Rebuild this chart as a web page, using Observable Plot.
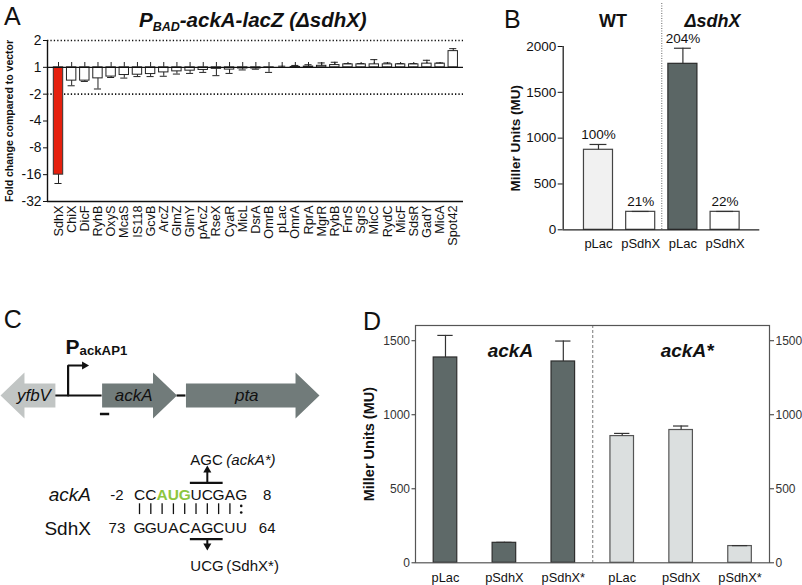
<!DOCTYPE html>
<html><head><meta charset="utf-8">
<script src="https://cdn.jsdelivr.net/npm/d3@7"></script>
<script src="https://cdn.jsdelivr.net/npm/@observablehq/plot@0.6"></script>
<style>
body{margin:0;background:#fff;}
#fig{position:relative;width:802px;height:585px;overflow:hidden;font-family:"Liberation Sans",Arial,Helvetica,sans-serif;color:#111;}
.box{position:absolute;}
</style></head><body><div id="fig"></div><script>
// ---------- Panel A data ----------
const srnas = ["SdhX","ChiX","DicF","RyhB","OxyS","McaS","IS118","GcvB","ArcZ","GlmZ","GlmY","pArcZ","RseX","CyaR","MicL","DsrA","OmrB","pLac","OmrA","RprA","MgrR","RybB","FnrS","SgrS","MicC","RydC","MicF","SdsR","GadY","MicA","Spot42"];
const foldChange = [-16,-1.41,-1.41,-1.33,-1.27,-1.22,-1.21,-1.19,-1.14,-1.11,-1.09,-1.07,-1.04,-1.06,-1.03,-1.03,-1.01,1.00,1.01,1.02,1.04,1.06,1.08,1.08,1.08,1.08,1.08,1.08,1.10,1.10,1.52];
const foldError  = [-20.1,-1.61,-1.44,-1.75,-1.30,-1.32,-1.27,-1.27,-1.26,-1.19,-1.17,-1.14,-1.24,-1.17,-1.07,-1.05,-1.14,1.03,1.05,1.07,1.12,1.14,1.10,1.10,1.22,1.12,1.10,1.10,1.20,1.12,1.62];
const foldTicks = [2,1,-2,-4,-8,-16,-32];
const cutoffs = [2,-2];
// ---------- Panel B data ----------
const bGroups = ["WT","\u0394sdhX"];
const bGroupOf = [0,0,1,1];
const bPlasmids = ["pLac","pSdhX","pLac","pSdhX"];
const bMU = [873,196,1811,196];
const bErr = [931,200,1981,200];
const bPct = ["100%","21%","204%","22%"];
const bTicks = [0,500,1000,1500,2000];
// ---------- Panel C data ----------
const geneNames = ["yfbV","ackA","pta"];
const geneStart = [-750,0,1347];      // bp, relative to ackA start (tail of arrow)
const geneEnd   = [-1632,1203,3492];  // bp (arrow tip)
const promoterBp = -546;
const probeBp = [-27,122];
const ackASeq = "CCAUGUCGAG";
const sdhXSeq = "GGUACAGCUU";
const pairing = "|||||||||:";
const ackAEnds = ["-2","8"];
const sdhXEnds = ["73","64"];
const startCodon = [2,4];
const mutIdx = [5,7];
const ackAMut = "AGC", sdhXMut = "UCG";
// ---------- Panel D data ----------
const dConstructs = ["ackA","ackA*"];
const dGroupOf = [0,0,0,1,1,1];
const dPlasmids = ["pLac","pSdhX","pSdhX*","pLac","pSdhX","pSdhX*"];
const dMU  = [1387,135,1360,856,897,113];
const dErr = [1536,138,1498,874,924,116];
const dTicks = [0,500,1000,1500];

// ---------- helpers ----------
const FONT = '"Liberation Sans", Arial, Helvetica, sans-serif';
const fig = document.getElementById("fig");
const st = fs => ({background:"transparent",fontFamily:FONT,fontSize:fs+"px",color:"#111",overflow:"visible",maxWidth:"none"});
function put(node,left,top,w,h){const d=document.createElement("div");d.className="box";d.style.left=left+"px";d.style.top=top+"px";d.style.width=w+"px";d.style.height=h+"px";d.appendChild(node);fig.appendChild(d);}
function html(s,css){const d=document.createElement("div");d.innerHTML=s;d.style.cssText="position:absolute;white-space:nowrap;"+css;fig.appendChild(d);}
const pos = f => f >= 1 ? Math.log2(f) : -Math.log2(-f);

// ---------- Panel A ----------
const aRows = srnas.map((name,i)=>({i,name,v:pos(foldChange[i]),e:pos(foldError[i]),hit:foldChange[i]<=-2}));
const aDom = [-0.836,30.78], aHalf = 0.357, aCap = 0.27;
const plotA = Plot.plot({
  width:470,height:300,marginLeft:47,marginRight:7,marginTop:40,marginBottom:99,style:st(13),
  x:{domain:aDom}, y:{domain:[pos(-32),pos(2)]},
  marks:[
    Plot.ruleY(cutoffs,{y:pos,stroke:"#111",strokeWidth:1.6,strokeDasharray:"1.3,2.1"}),
    Plot.ruleX(aRows,{x:"i",y1:0,y2:0.18,stroke:"#222",strokeWidth:1}),
    Plot.rect(aRows,{filter:d=>!d.hit,x1:d=>d.i-aHalf,x2:d=>d.i+aHalf,y1:0,y2:"v",fill:"#fff",stroke:"#222",strokeWidth:1}),
    Plot.rect(aRows,{filter:d=>d.hit,x1:d=>d.i-aHalf,x2:d=>d.i+aHalf,y1:0,y2:"v",fill:"#e6200e",stroke:"#333",strokeWidth:1}),
    Plot.ruleX(aRows,{x:"i",y1:"v",y2:"e",stroke:"#222",strokeWidth:1}),
    Plot.ruleY(aRows,{y:"e",x1:d=>d.i-aCap,x2:d=>d.i+aCap,stroke:"#222",strokeWidth:1}),
    Plot.ruleY([0],{stroke:"#111",strokeWidth:1.4}),
    Plot.ruleY([pos(-32)],{stroke:"#111",strokeWidth:1.4}),
    Plot.ruleX([aDom[0]],{stroke:"#111",strokeWidth:1.4}),
    Plot.axisY({ticks:foldTicks.map(pos),tickFormat:p=>String(foldTicks.find(f=>Math.abs(pos(f)-p)<1e-9)),tickSize:4,tickPadding:2,fontSize:13.8,label:null}),
    Plot.axisX({ticks:aRows.map(d=>d.i),tickFormat:i=>srnas[i],tickRotate:-90,tickSize:0,tickPadding:4,fontSize:12.7,label:null}),
    Plot.text(["Fold change compared to vector"],{frameAnchor:"left",textAnchor:"middle",rotate:-90,dx:-38,fontWeight:"bold",fontSize:10.5})
  ]
});
put(plotA,0,0,470,300);

// ---------- Panel B ----------
const bRows = bPlasmids.map((p,i)=>({i,p,g:bGroupOf[i],v:bMU[i],e:bErr[i],pct:bPct[i]}));
const bDom = [-0.836,3.822], bHalf = 0.344, bCap = 0.2;
const bSplit = bGroupOf.findIndex(g=>g===1) - 0.5;
const bCenter = g => d3.mean(bRows.filter(d=>d.g===g),d=>d.i);
const plotB = Plot.plot({
  width:332,height:270,marginLeft:92.7,marginRight:42.7,marginTop:46,marginBottom:40.7,style:st(13),
  x:{domain:bDom}, y:{domain:[0,2000]},
  marks:[
    Plot.ruleX([bSplit],{stroke:"#666",strokeWidth:1,strokeDasharray:"1,1.5",insetTop:-43}),
    Plot.rect(bRows,{filter:d=>d.p!=="pLac",x1:d=>d.i-bHalf,x2:d=>d.i+bHalf,y1:0,y2:"v",fill:"#fff",stroke:"#444",strokeWidth:1.2}),
    Plot.rect(bRows,{filter:d=>d.p==="pLac"&&d.g===0,x1:d=>d.i-bHalf,x2:d=>d.i+bHalf,y1:0,y2:"v",fill:"#f1f1f1",stroke:"#444",strokeWidth:1.2}),
    Plot.rect(bRows,{filter:d=>d.p==="pLac"&&d.g===1,x1:d=>d.i-bHalf,x2:d=>d.i+bHalf,y1:0,y2:"v",fill:"#5b6665",stroke:"#2a2a2a",strokeWidth:1.2}),
    Plot.ruleX(bRows,{x:"i",y1:"v",y2:"e",stroke:"#333",strokeWidth:1.2}),
    Plot.ruleY(bRows,{y:"e",x1:d=>d.i-bCap,x2:d=>d.i+bCap,stroke:"#333",strokeWidth:1.2}),
    Plot.ruleY([0],{stroke:"#222",strokeWidth:1.3}),
    Plot.ruleX([bDom[0]],{stroke:"#222",strokeWidth:1.3}),
    Plot.axisY({ticks:bTicks,tickFormat:d=>String(d),tickSize:5,tickPadding:2,fontSize:13.5,label:null}),
    Plot.axisX({ticks:bRows.map(d=>d.i),tickFormat:i=>bPlasmids[i],tickSize:0,tickPadding:9,fontSize:13,label:null}),
    Plot.text(bRows,{x:"i",y:"e",text:"pct",dy:-9.5,fontSize:13.5}),
    Plot.text([bGroups[0]],{x:bCenter(0),frameAnchor:"top",dy:-32.7,dx:-6.6,fontWeight:"bold",fontSize:18}),
    Plot.text([bGroups[1]],{x:bCenter(1),frameAnchor:"top",dy:-32.7,dx:8.5,fontWeight:"bold",fontStyle:"italic",fontSize:18}),
    Plot.text(["Miller Units (MU)"],{frameAnchor:"left",textAnchor:"middle",rotate:-90,dx:-47.7,fontWeight:"bold",fontSize:13.5})
  ]
});
put(plotB,470,0,332,270);

// ---------- Panel C (gene map) ----------
const HEAD = 385, BODY = 12, HEADH = 23;
const genePts = geneNames.flatMap((name,k)=>{
  const s = geneStart[k], e = geneEnd[k], dir = Math.sign(e-s), hb = e-dir*HEAD;
  return [[s,-BODY],[hb,-BODY],[hb,-HEADH],[e,0],[hb,HEADH],[hb,BODY],[s,BODY]].map(([x,y])=>({name,x,y,rev:dir<0}));
});
const geneLab = geneNames.map((name,k)=>{const dir=Math.sign(geneEnd[k]-geneStart[k]);return {name,x:(geneStart[k]+geneEnd[k])/2-dir*96};});
const backbone = [{x1:geneStart[0],x2:geneStart[1]},{x1:geneEnd[1],x2:geneStart[2]}];
const promArm = 262;
const plotCmap = Plot.plot({
  width:330,height:100,margin:0,style:st(17),
  x:{domain:[-1632,3492],range:[0,319],axis:null}, y:{domain:[-65,35],range:[0,100],axis:null},
  marks:[
    Plot.ruleY(backbone,{x1:"x1",x2:"x2",y:0,stroke:"#111",strokeWidth:2.2}),
    Plot.line(genePts.filter(d=>d.rev),{x:"x",y:"y",z:"name",fill:"#c1c5c4",stroke:"none"}),
    Plot.line(genePts.filter(d=>!d.rev),{x:"x",y:"y",z:"name",fill:"#717b7a",stroke:"none"}),
    Plot.line([[promoterBp,0],[promoterBp,-30],[promoterBp+promArm,-30]],{stroke:"#111",strokeWidth:2.2,strokeLinejoin:"miter"}),
    Plot.dot([[promoterBp+promArm,-30]],{symbol:"triangle",rotate:90,r:3,fill:"#111",stroke:"none"}),
    Plot.ruleY([{x1:probeBp[0],x2:probeBp[1]}],{x1:"x1",x2:"x2",y:18.5,stroke:"#111",strokeWidth:2.5}),
    Plot.text(geneLab,{x:"x",y:0,text:"name",fontStyle:"italic",fontSize:17,fill:"#111"}),
    Plot.text(["P"],{x:promoterBp,y:-48.5,textAnchor:"start",dx:-2.7,fontWeight:"bold",fontSize:21}),
    Plot.text(["ackAP1"],{x:promoterBp,y:-44.5,textAnchor:"start",dx:11.5,fontWeight:"bold",fontSize:13.2})
  ]
});
put(plotCmap,0,330,330,100);

// ---------- Panel C (base pairing) ----------
const ROW_A = 54.2, ROW_P = 68.7, ROW_S = 88, OVER = 42.3, UNDER = 98.7, LAB_A = 19.2, LAB_S = 125.8;
const aChars = [...ackASeq].map((c,i)=>({c,i,start:i>=startCodon[0]&&i<=startCodon[1]}));
const sChars = [...sdhXSeq].map((c,i)=>({c,i}));
const pChars = [...pairing].map((c,i)=>({c,i}));
const mutMid = (mutIdx[0]+mutIdx[1])/2;
const endX = ackASeq.length + 1.3, startX = -2, nameX = -4.3;
const wobble = pChars.filter(d=>d.c===":").flatMap(d=>[{i:d.i,y:ROW_P-3.3},{i:d.i,y:ROW_P+3.3}]);
const plotCseq = Plot.plot({
  width:330,height:145,margin:0,style:st(15),
  x:{domain:[-12.3,16.9],range:[0,330],axis:null}, y:{domain:[0,145],range:[0,145],axis:null},
  marks:[
    Plot.text(aChars,{filter:d=>!d.start,x:"i",y:ROW_A,text:"c",fontSize:15.5,fill:"#111"}),
    Plot.text(aChars,{filter:d=>d.start,x:"i",y:ROW_A,text:"c",fontSize:15.5,fill:"#8dc63f",fontWeight:"bold"}),
    Plot.text(sChars,{x:"i",y:ROW_S,text:"c",fontSize:15.5,fill:"#111"}),
    Plot.ruleX(pChars.filter(d=>d.c==="|"),{x:"i",y1:ROW_P-5.4,y2:ROW_P+5.4,stroke:"#111",strokeWidth:1.3}),
    Plot.dot(wobble,{x:"i",y:"y",r:1.3,fill:"#111",stroke:"none"}),
    Plot.text(["ackA"],{x:nameX,y:ROW_A,textAnchor:"end",fontStyle:"italic",fontSize:19}),
    Plot.text(["SdhX"],{x:nameX,y:ROW_S,textAnchor:"end",fontSize:19}),
    Plot.text([ackAEnds[0]],{x:startX,y:ROW_A,fontSize:15}),
    Plot.text([ackAEnds[1]],{x:endX,y:ROW_A,fontSize:15}),
    Plot.text([sdhXEnds[0]],{x:startX,y:ROW_S,fontSize:15}),
    Plot.text([sdhXEnds[1]],{x:endX,y:ROW_S,fontSize:15}),
    Plot.ruleY([OVER],{x1:mutIdx[0]-0.5,x2:mutIdx[1]+0.4,stroke:"#111",strokeWidth:2.2}),
    Plot.ruleY([UNDER],{x1:mutIdx[0]-0.5,x2:mutIdx[1]+0.4,stroke:"#111",strokeWidth:2.2}),
    Plot.ruleX([mutMid],{y1:OVER,y2:OVER-11,stroke:"#111",strokeWidth:2}),
    Plot.dot([[mutMid,OVER-12.6]],{symbol:"triangle",r:3,fill:"#111",stroke:"none"}),
    Plot.ruleX([mutMid],{y1:UNDER,y2:UNDER+6,stroke:"#111",strokeWidth:2}),
    Plot.dot([[mutMid,UNDER+6.6]],{symbol:"triangle",rotate:180,r:3,fill:"#111",stroke:"none"}),
    Plot.text([ackAMut],{x:mutIdx[0]-0.5,y:LAB_A,textAnchor:"start",fontSize:15}),
    Plot.text(["(ackA*)"],{x:mutIdx[0]-0.5,y:LAB_A,textAnchor:"start",dx:36,fontSize:15,fontStyle:"italic"}),
    Plot.text([sdhXMut],{x:mutIdx[0]-0.5,y:LAB_S,textAnchor:"start",fontSize:15}),
    Plot.text(["(SdhX*)"],{x:mutIdx[0]-0.5,y:LAB_S,textAnchor:"start",dx:36,fontSize:15})
  ]
});
put(plotCseq,0,440,330,145);

// ---------- Panel D ----------
const dRows = dPlasmids.map((p,i)=>({i,p,g:dGroupOf[i],v:dMU[i],e:dErr[i]}));
const dDom = [-0.509,5.5], dHalf = 0.2, dCap = 0.13;
const dSplit = dGroupOf.findIndex(g=>g===1) - 0.5;
const dCenter = g => d3.mean(dRows.filter(d=>d.g===g),d=>d.i);
const plotD = Plot.plot({
  width:472,height:285,marginLeft:85,marginRight:33,marginTop:25,marginBottom:22.7,style:st(12.5),
  x:{domain:dDom}, y:{domain:[0,1603]},
  marks:[
    Plot.ruleX([dSplit],{stroke:"#777",strokeWidth:1,strokeDasharray:"3,2"}),
    Plot.rect(dRows,{filter:d=>d.g===0,x1:d=>d.i-dHalf,x2:d=>d.i+dHalf,y1:0,y2:"v",fill:"#5e6968",stroke:"#2e2e2e",strokeWidth:1.2}),
    Plot.rect(dRows,{filter:d=>d.g===1,x1:d=>d.i-dHalf,x2:d=>d.i+dHalf,y1:0,y2:"v",fill:"#dbdfdf",stroke:"#555",strokeWidth:1.2}),
    Plot.ruleX(dRows,{x:"i",y1:"v",y2:"e",stroke:"#333",strokeWidth:1.2}),
    Plot.ruleY(dRows,{y:"e",x1:d=>d.i-dCap,x2:d=>d.i+dCap,stroke:"#333",strokeWidth:1.2}),
    Plot.frame({stroke:"#555",strokeWidth:1.2}),
    Plot.axisY({ticks:dTicks,tickFormat:d=>String(d),anchor:"left",tickSize:3.5,tickPadding:2,fontSize:12,color:"#333",label:null}),
    Plot.axisY({ticks:dTicks,tickFormat:d=>String(d),anchor:"right",tickSize:4,tickPadding:2,fontSize:12,color:"#333",label:null}),
    Plot.axisX({ticks:dRows.map(d=>d.i),tickFormat:i=>dPlasmids[i],tickSize:0,tickPadding:9.9,fontSize:12.8,label:null}),
    Plot.text([dConstructs[0]],{x:dCenter(0),frameAnchor:"top",dy:17.7,dx:6,fontWeight:"bold",fontStyle:"italic",fontSize:19}),
    Plot.text([dConstructs[1]],{x:dCenter(1),frameAnchor:"top",dy:17.7,dx:6,fontWeight:"bold",fontStyle:"italic",fontSize:19}),
    Plot.text(["Miller Units (MU)"],{frameAnchor:"left",textAnchor:"middle",rotate:-90,dx:-46,fontWeight:"bold",fontSize:14.5})
  ]
});
put(plotD,330,300,472,285);

// ---------- Panel letters & title ----------
html("A","left:4px;top:3.7px;font-size:25px;line-height:1;");
html("B","left:504px;top:6.7px;font-size:25px;line-height:1;");
html("C","left:3.7px;top:306.7px;font-size:25px;line-height:1;");
html("D","left:363px;top:308.7px;font-size:25px;line-height:1;");
html('P<span style="font-size:12.5px;position:relative;top:4px;">BAD</span>-ackA-lacZ (\u0394sdhX)',"left:139px;top:10px;font-size:20.5px;line-height:1;font-weight:bold;font-style:italic;");
</script></body></html>
